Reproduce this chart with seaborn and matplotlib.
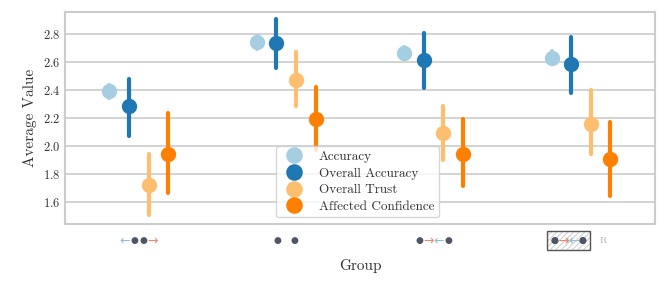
import numpy as np
import pandas as pd
import matplotlib
matplotlib.use("Agg")
import matplotlib.pyplot as plt
import seaborn as sns
from matplotlib.offsetbox import TextArea, HPacker, AnnotationBbox

groups = ["G1", "G2", "G3", "G4"]
metrics = ["Accuracy", "Overall Accuracy", "Overall Trust", "Affected Confidence"]
# mean, low, high for each metric per group
acc_mean = [2.39, 2.74, 2.665, 2.63]
acc_lo = [2.345, 2.695, 2.62, 2.585]
acc_hi = [2.435, 2.785, 2.71, 2.675]
oa_mean = [2.285, 2.735, 2.615, 2.585]
oa_lo = [2.07, 2.555, 2.415, 2.38]
oa_hi = [2.48, 2.905, 2.805, 2.775]
ot_mean = [1.72, 2.47, 2.09, 2.155]
ot_lo = [1.505, 2.285, 1.90, 1.945]
ot_hi = [1.94, 2.67, 2.285, 2.40]
ac_mean = [1.945, 2.195, 1.945, 1.905]
ac_lo = [1.665, 1.97, 1.715, 1.645]
ac_hi = [2.235, 2.42, 2.19, 2.17]

series = {
    "Accuracy": (acc_mean, acc_lo, acc_hi),
    "Overall Accuracy": (oa_mean, oa_lo, oa_hi),
    "Overall Trust": (ot_mean, ot_lo, ot_hi),
    "Affected Confidence": (ac_mean, ac_lo, ac_hi),
}
rows = []
for m in metrics:
    mean, lo, hi = series[m]
    for i, g in enumerate(groups):
        for v in (lo[i], mean[i], hi[i]):
            rows.append({"Group": g, "Metric": m, "Average Value": v})
df = pd.DataFrame(rows)

sns.set_theme(style="whitegrid")
plt.rcParams["font.family"] = ["cmr10", "DejaVu Serif"]
plt.rcParams["axes.formatter.use_mathtext"] = True

palette = ["#a6cee3", "#1f78b4", "#fdbf6f", "#ff7f00"]

fig = plt.figure(figsize=(6.64, 2.86), dpi=100)
ax = fig.add_axes([0.098, 0.217, 0.888, 0.741])
sns.pointplot(data=df, x="Group", y="Average Value", hue="Metric", hue_order=metrics,
              order=groups, estimator="median", errorbar=("pi", 100),
              dodge=0.4, linestyle="none", palette=palette, markers="o",
              markersize=9, err_kws={"linewidth": 3}, ax=ax)
ax.set_ylim(1.443, 2.957)
ax.set_xlim(-0.5, 3.5)
ax.set_yticks([1.6, 1.8, 2.0, 2.2, 2.4, 2.6, 2.8])
ax.tick_params(axis="y", labelsize=9, colors="#333333", length=0)
ax.tick_params(axis="x", length=0)
ax.set_xticklabels(["", "", "", ""])
ax.grid(axis="x", visible=False)
ax.grid(axis="y", color="#cccccc", linewidth=1.2)
for s in ax.spines.values():
    s.set_color("#cccccc")
    s.set_linewidth(1.5)
ax.set_ylabel("Average Value", fontsize=11, color="#333333")
ax.set_xlabel("Group", fontsize=11, color="#333333", labelpad=22)

leg = ax.legend(loc="lower center", bbox_to_anchor=(0.496, 0.0), fontsize=9.5,
                frameon=True, handletextpad=0.9, borderpad=0.35, labelspacing=0.33,
                markerscale=1.1)
leg.get_frame().set_edgecolor("#cccccc")
for t in leg.get_texts():
    t.set_color("#333333")

blue = "#8fbfd0"
red = "#e2896f"
dot = "#4d5566"
arrow_fp = dict(family="DejaVu Sans", size=9)
dot_fp = dict(family="DejaVu Sans", size=6.5)
LA, RA, DOT = "\u2190", "\u2192", "\u25cf"
labels = [
    [(LA, blue), (DOT, dot), ("\u2009", dot), (DOT, dot), (RA, red)],
    [(DOT, dot), ("\u2003", dot), (DOT, dot)],
    [(DOT, dot), (RA, red), (LA, blue), (DOT, dot)],
    [(DOT, dot), (RA, red), (LA, blue), (DOT, dot)],
]


def make_pack(parts):
    areas = []
    for t, c in parts:
        fp = arrow_fp if t in (LA, RA) else dot_fp
        areas.append(TextArea(t, textprops=dict(color=c, **fp)))
    return HPacker(children=areas, align="center", pad=0, sep=0)


trans = matplotlib.transforms.blended_transform_factory(ax.transData, ax.transAxes)
for i, parts in enumerate(labels):
    if i == 3:
        xpos = i - 0.085
        ab = AnnotationBbox(make_pack(parts), (xpos, -0.08), xycoords=trans, frameon=True,
                            box_alignment=(0.5, 0.5), pad=0.2,
                            bboxprops=dict(edgecolor="#d8d8d8", facecolor="white",
                                           hatch="//////", linewidth=0.0))
        ax.add_artist(ab)
        ab2 = AnnotationBbox(make_pack(parts), (xpos, -0.08), xycoords=trans, frameon=True,
                             box_alignment=(0.5, 0.5), pad=0.2,
                             bboxprops=dict(edgecolor="#555555", facecolor="none",
                                            linewidth=1.0))
        ax.add_artist(ab2)
        ax.text(i + 0.15, -0.08, "R", transform=trans, ha="center", va="center",
                fontsize=7, color="#aaaaaa")
    else:
        ab = AnnotationBbox(make_pack(parts), (i, -0.08), xycoords=trans, frameon=False,
                            box_alignment=(0.5, 0.5), pad=0)
        ax.add_artist(ab)

fig.savefig("out.png", dpi=100)
